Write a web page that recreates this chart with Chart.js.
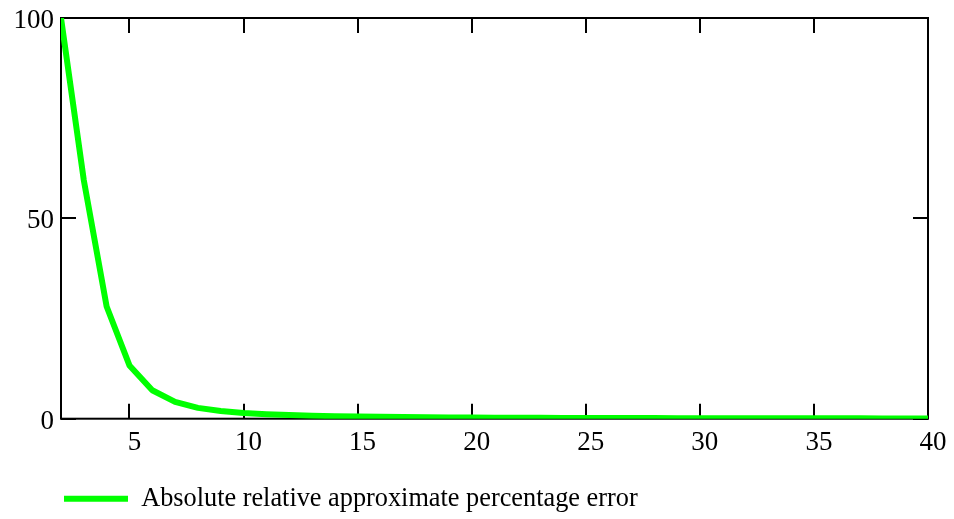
<!DOCTYPE html>
<html>
<head>
<meta charset="utf-8">
<script src="https://cdn.jsdelivr.net/npm/chart.js@4/dist/chart.umd.min.js"></script>
<style>
  html, body { margin: 0; padding: 0; background: #ffffff; }
  #wrap { width: 954px; height: 519px; }
</style>
</head>
<body>
<div id="wrap"><canvas id="c" width="954" height="519"></canvas></div>
<script>
const xValues = [2, 3, 4, 5, 6, 7, 8, 9, 10, 11, 12, 13, 14, 15, 16, 17, 18, 19, 20, 21,
  22, 23, 24, 25, 26, 27, 28, 29, 30, 31, 32, 33, 34, 35, 36, 37, 38, 39, 40];
const errorValues = [100, 59.5, 28, 13.3, 7.1, 4.2, 2.7, 1.9, 1.4, 1.1, 0.9, 0.75, 0.63, 0.54,
  0.47, 0.41, 0.36, 0.32, 0.29, 0.26, 0.24, 0.22, 0.2, 0.18, 0.17, 0.16, 0.15, 0.14, 0.13,
  0.12, 0.11, 0.105, 0.1, 0.095, 0.09, 0.085, 0.08, 0.076, 0.072];
const xTicks = [5, 10, 15, 20, 25, 30, 35, 40];
const yTicks = [0, 50, 100];
const seriesLabel = 'Absolute relative approximate percentage error';

const TICK_FONT = { family: "'Liberation Serif', 'Times New Roman', serif", size: 27 };
const LEGEND_FONT = { family: "'Liberation Serif', 'Times New Roman', serif", size: 26.3 };

const framePlugin = {
  id: 'frame',
  beforeDatasetsDraw(chart) {
    const { ctx, chartArea: a, scales } = chart;
    ctx.save();
    ctx.strokeStyle = '#000';
    ctx.lineWidth = 2;
    ctx.strokeRect(a.left, a.top, a.right - a.left, a.bottom - a.top);
    const len = 15;
    ctx.beginPath();
    scales.x.ticks.forEach(t => {
      const px = Math.round(scales.x.getPixelForValue(t.value));
      ctx.moveTo(px, a.bottom); ctx.lineTo(px, a.bottom - len);
      ctx.moveTo(px, a.top); ctx.lineTo(px, a.top + len);
    });
    scales.y.ticks.forEach(t => {
      const py = Math.round(scales.y.getPixelForValue(t.value));
      ctx.moveTo(a.left, py); ctx.lineTo(a.left + len, py);
      ctx.moveTo(a.right, py); ctx.lineTo(a.right - len, py);
    });
    ctx.stroke();
    ctx.restore();
  }
};

new Chart(document.getElementById('c'), {
  type: 'line',
  data: {
    datasets: [{
      label: seriesLabel,
      data: xValues.map((x, i) => ({ x: x, y: errorValues[i] })),
      borderColor: '#00ff00',
      backgroundColor: '#00ff00',
      borderWidth: 6,
      borderCapStyle: 'round',
      borderJoinStyle: 'round',
      pointRadius: 0,
      tension: 0
    }]
  },
  options: {
    responsive: false,
    animation: false,
    devicePixelRatio: 1,
    layout: { padding: { left: 0, right: 26, top: 18, bottom: -3 } },
    plugins: {
      tooltip: { enabled: false },
      legend: {
        display: true,
        position: 'bottom',
        align: 'start',
        fullSize: false,
        labels: {
          usePointStyle: true,
          pointStyle: 'line',
          pointStyleWidth: 64,
          boxHeight: 6,
          padding: 3,
          color: '#000',
          font: LEGEND_FONT
        }
      }
    },
    scales: {
      x: {
        type: 'linear',
        min: 2,
        max: 40,
        grid: { display: false, drawTicks: false },
        border: { display: false },
        afterBuildTicks: s => { s.ticks = xTicks.map(v => ({ value: v })); },
        afterFit: s => { s.height = 64; },
        ticks: {
          color: '#000',
          font: TICK_FONT,
          padding: 8,
          labelOffset: 5,
          maxRotation: 0,
          autoSkip: false
        }
      },
      y: {
        type: 'linear',
        min: 0,
        max: 100,
        grid: { display: false, drawTicks: false },
        border: { display: false },
        afterBuildTicks: s => { s.ticks = yTicks.map(v => ({ value: v })); },
        afterFit: s => { s.width = 61; s.paddingTop = 0; s.paddingBottom = 0; },
        ticks: {
          color: '#000',
          font: TICK_FONT,
          padding: 7,
          labelOffset: 3,
          autoSkip: false
        }
      }
    }
  },
  plugins: [framePlugin]
});
</script>
</body>
</html>
